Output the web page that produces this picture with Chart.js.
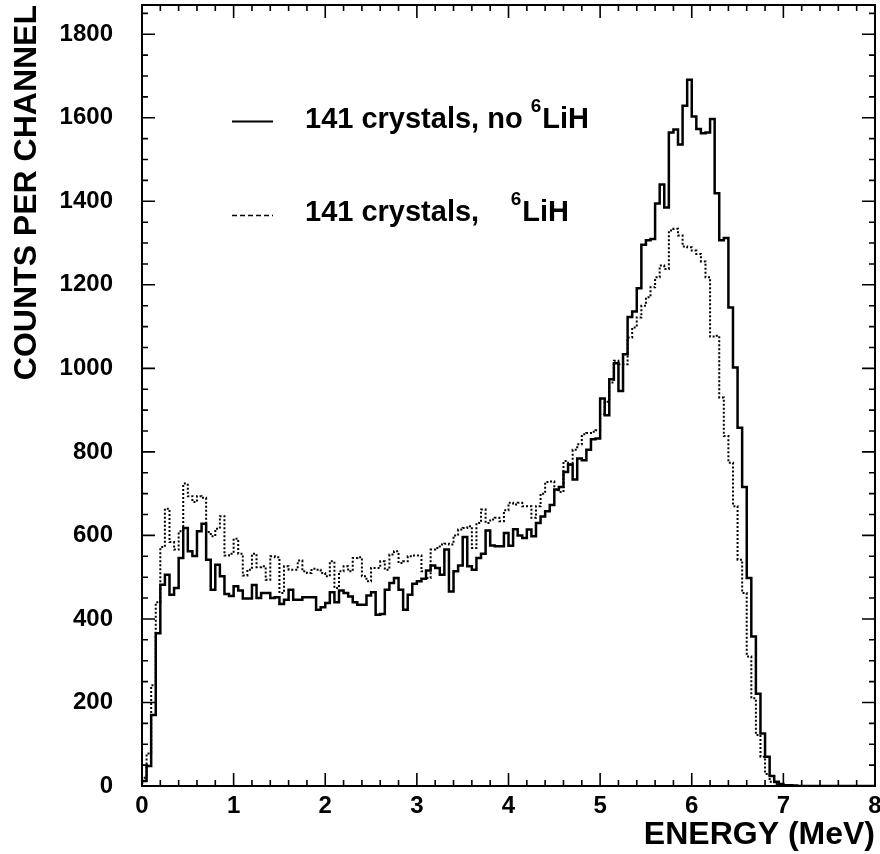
<!DOCTYPE html>
<html>
<head>
<meta charset="utf-8">
<title>Energy spectrum, 141 crystals</title>
<script src="https://cdn.jsdelivr.net/npm/chart.js@4.4.1/dist/chart.umd.min.js"></script>
<style>
  html, body { margin: 0; padding: 0; background: #fff; }
  canvas { display: block; }
</style>
</head>
<body>
<canvas id="spectrum" width="880" height="854"></canvas>
<script>
// Histogram binning (MeV) and axis ranges
const BIN_WIDTH = 0.05;
const X_MIN = 0, X_MAX = 8;
const Y_MIN = 0, Y_MAX = 1870;
const X_MAJOR = 1, X_MINOR = 0.2;
const Y_MAJOR = 200, Y_MINOR = 50;

// Counts per channel, 160 channels of 0.05 MeV
const noLiH = [
  5, 12, 48, 170, 366, 482, 506, 458, 474, 546, 618, 562, 551, 610, 628, 542, 470, 530, 502, 460,
  455, 478, 468, 449, 449, 481, 450, 462, 462, 450, 452, 436, 446, 470, 446, 446, 452, 452, 452, 422,
  428, 438, 464, 440, 468, 462, 454, 440, 434, 434, 456, 464, 410, 412, 470, 486, 498, 470, 422, 458,
  484, 490, 496, 516, 528, 522, 506, 566, 466, 514, 528, 596, 526, 518, 546, 556, 612, 576, 574, 574,
  606, 575, 615, 600, 594, 614, 598, 630, 645, 658, 673, 710, 716, 752, 770, 734, 784, 780, 805, 830,
  832, 928, 888, 974, 1012, 946, 1034, 1123, 1136, 1192, 1296, 1307, 1310, 1395, 1440, 1385, 1565, 1572, 1536, 1629,
  1691, 1603, 1573, 1563, 1565, 1597, 1419, 1307, 1312, 1146, 1002, 858, 716, 498, 358, 221, 126, 70, 24, 10,
  5, 2, 2, 1, 0, 0, 0, 0, 0, 0, 0, 0, 0, 0, 0, 0, 0, 0, 0, 0
];
const withLiH = [
  5, 20, 78, 241, 440, 572, 664, 584, 566, 610, 724, 694, 680, 694, 690, 608, 598, 616, 646, 552,
  556, 592, 556, 504, 518, 556, 524, 526, 494, 550, 548, 462, 526, 518, 518, 540, 514, 510, 520, 518,
  510, 502, 538, 474, 514, 526, 514, 546, 548, 502, 490, 522, 522, 538, 518, 554, 562, 534, 538, 550,
  552, 552, 514, 498, 566, 570, 578, 580, 578, 600, 614, 618, 622, 570, 630, 662, 630, 638, 642, 634,
  660, 678, 674, 678, 670, 670, 642, 670, 700, 728, 729, 708, 704, 778, 770, 805, 818, 842, 845, 848,
  852, 890, 920, 966, 1018, 1010, 1010, 1074, 1098, 1122, 1150, 1170, 1194, 1218, 1246, 1238, 1330, 1334, 1318, 1292,
  1290, 1282, 1274, 1256, 1218, 1076, 1078, 930, 838, 774, 670, 542, 462, 310, 210, 122, 70, 29, 10, 5,
  2, 0, 0, 0, 0, 0, 0, 0, 0, 0, 0, 0, 0, 0, 0, 0, 0, 0, 0, 0
];

// Legend text: label, superscript, tail
const legendText = [
  ['141 crystals, no', '6', 'LiH'],
  ['141 crystals,', '6', 'LiH']
];

const FONT = '"Liberation Sans", Arial, Helvetica, sans-serif';

// bin low edges -> step points, plus a closing point at the last upper edge
function toSteps(counts) {
  const pts = counts.map((c, i) => ({ x: X_MIN + i * BIN_WIDTH, y: c }));
  pts.push({ x: X_MIN + counts.length * BIN_WIDTH, y: counts[counts.length - 1] });
  return pts;
}

// Frame with inward ticks on all four sides, plus the legend
const frameAndLegend = {
  id: 'frameAndLegend',
  afterDraw(chart) {
    const { ctx, chartArea: a, scales: { x, y } } = chart;
    ctx.save();
    ctx.strokeStyle = '#000';
    ctx.setLineDash([]);

    ctx.lineWidth = 1.6;
    ctx.beginPath();
    const nx = Math.round((X_MAX - X_MIN) / X_MINOR);
    for (let i = 0; i <= nx; i++) {
      const px = x.getPixelForValue(X_MIN + i * X_MINOR);
      const len = (i % Math.round(X_MAJOR / X_MINOR) === 0) ? 13 : 6;
      ctx.moveTo(px, a.bottom); ctx.lineTo(px, a.bottom - len);
      ctx.moveTo(px, a.top); ctx.lineTo(px, a.top + len);
    }
    for (let i = 0; Y_MIN + i * Y_MINOR <= Y_MAX; i++) {
      const py = y.getPixelForValue(Y_MIN + i * Y_MINOR);
      const len = (i % Math.round(Y_MAJOR / Y_MINOR) === 0) ? 13 : 6;
      ctx.moveTo(a.left, py); ctx.lineTo(a.left + len, py);
      ctx.moveTo(a.right, py); ctx.lineTo(a.right - len, py);
    }
    ctx.stroke();

    ctx.lineWidth = 2;
    ctx.strokeRect(a.left, a.top, a.right - a.left, a.bottom - a.top);

    // legend; the two superscripts sit nearly in one column
    ctx.fillStyle = '#000';
    ctx.textBaseline = 'alphabetic';
    ctx.textAlign = 'left';
    ctx.font = 'bold 29px ' + FONT;
    const supX = 305 + ctx.measureText(legendText[0][0] + ' ').width;
    const rows = [
      { lineY: 121.5, base: 128, dash: [], width: 2, supX: supX },
      { lineY: 215.5, base: 221, dash: [5, 3], width: 1.4, supX: supX - 20 }
    ];
    rows.forEach((r, k) => {
      ctx.setLineDash(r.dash);
      ctx.lineWidth = r.width;
      ctx.beginPath();
      ctx.moveTo(232, r.lineY);
      ctx.lineTo(273, r.lineY);
      ctx.stroke();
      ctx.setLineDash([]);

      const [main, sup, tail] = legendText[k];
      ctx.font = 'bold 29px ' + FONT;
      ctx.fillText(main, 305, r.base);
      ctx.font = 'bold 19px ' + FONT;
      ctx.fillText(sup, r.supX, r.base - 16);
      const tx = r.supX + ctx.measureText(sup).width + 1;
      ctx.font = 'bold 29px ' + FONT;
      ctx.fillText(tail, tx, r.base);
    });
    ctx.restore();
  }
};

new Chart(document.getElementById('spectrum'), {
  type: 'line',
  data: {
    datasets: [
      {
        label: legendText[0].join(' '),
        data: toSteps(noLiH),
        stepped: 'after',
        borderColor: '#000',
        borderWidth: 2.5,
        pointRadius: 0,
        fill: false
      },
      {
        label: legendText[1].join(' '),
        data: toSteps(withLiH),
        stepped: 'after',
        borderColor: '#000',
        borderWidth: 2,
        borderDash: [2, 2],
        pointRadius: 0,
        fill: false
      }
    ]
  },
  options: {
    responsive: false,
    animation: false,
    devicePixelRatio: 1,
    layout: { padding: { top: 5, right: 5, left: 0, bottom: 0 } },
    plugins: { legend: { display: false }, tooltip: { enabled: false } },
    scales: {
      x: {
        type: 'linear',
        min: X_MIN, max: X_MAX,
        grid: { display: false, drawTicks: false },
        border: { display: false },
        ticks: {
          stepSize: X_MAJOR, padding: 6, color: '#000',
          font: { family: FONT, size: 24, weight: 'bold' },
          callback: v => String(v)
        },
        title: {
          display: true, text: 'ENERGY (MeV)', align: 'end', color: '#000',
          font: { family: FONT, size: 32, weight: 'bold' },
          padding: { top: 0, bottom: 0 }
        },
        afterFit(s) { s.height = 68; s.paddingLeft = 0; s.paddingRight = 0; }
      },
      y: {
        min: Y_MIN, max: Y_MAX,
        grid: { display: false, drawTicks: false },
        border: { display: false },
        ticks: {
          stepSize: Y_MAJOR, padding: 29, color: '#000',
          font: { family: FONT, size: 24, weight: 'bold' },
          callback: v => (v % Y_MAJOR === 0 ? String(v) : null)
        },
        title: {
          display: true, text: 'COUNTS PER CHANNEL', align: 'end', color: '#000',
          font: { family: FONT, size: 32, weight: 'bold' },
          padding: { top: 8, bottom: 0 }
        },
        afterFit(s) { s.width = 142; s.paddingTop = 0; s.paddingBottom = 0; }
      }
    }
  },
  plugins: [frameAndLegend]
});
</script>
</body>
</html>
